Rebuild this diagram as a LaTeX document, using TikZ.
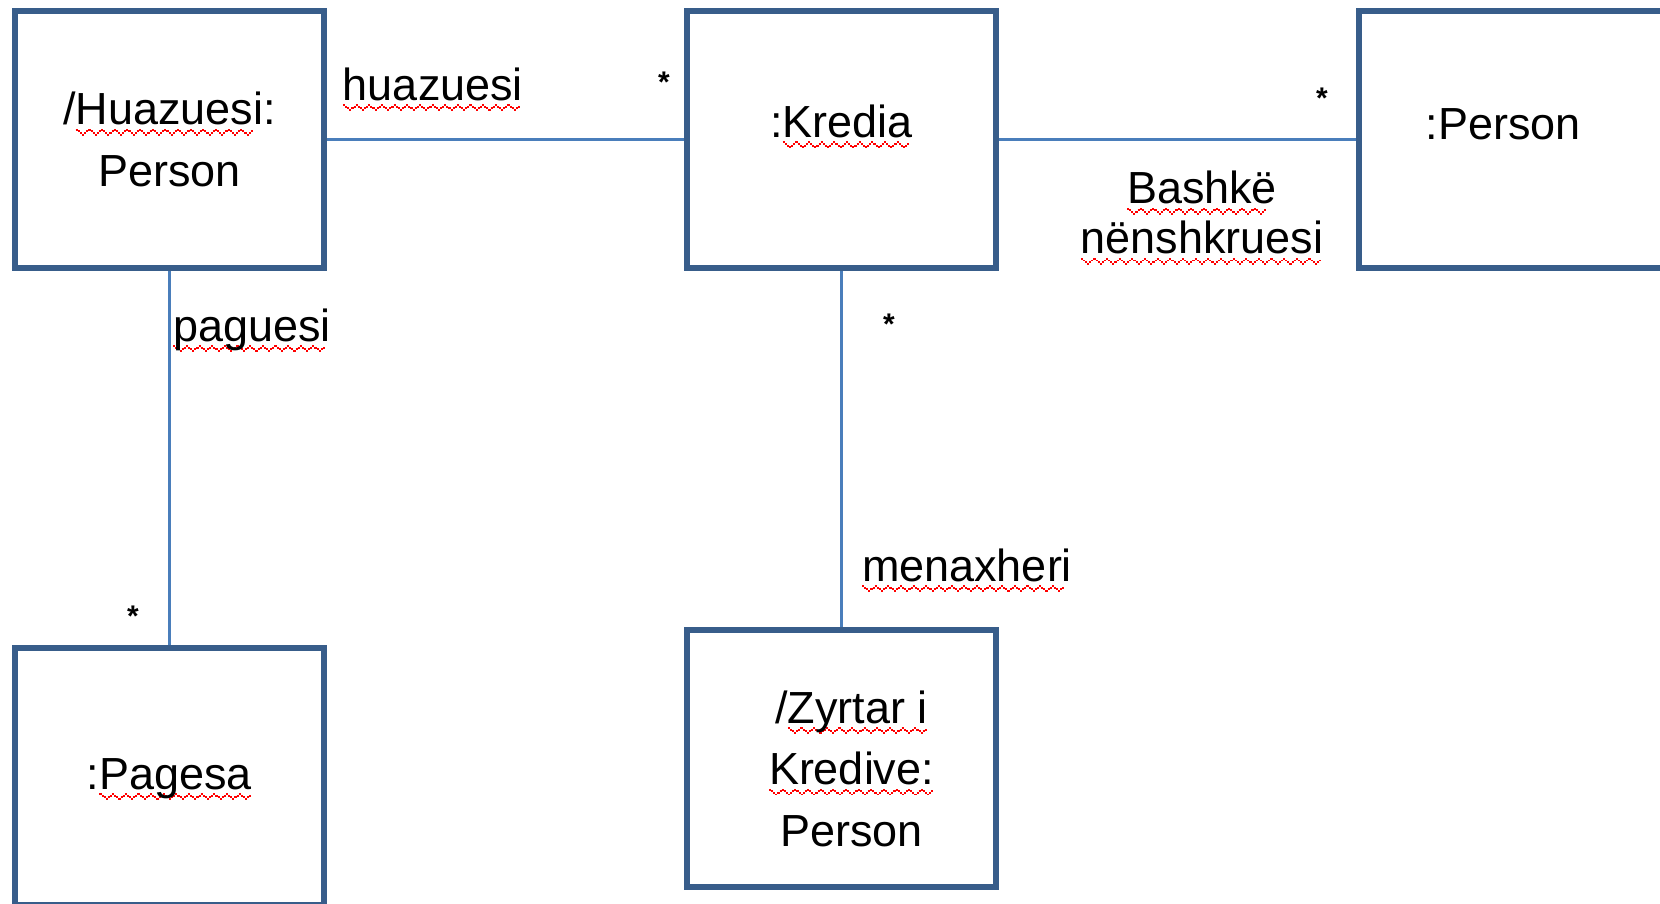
\documentclass[tikz,border=0pt]{standalone}
\usepackage{fontspec}
\setmainfont{Liberation Sans}
\usetikzlibrary{positioning}

\definecolor{boxblue}{HTML}{385D8A}
\definecolor{lineblue}{HTML}{4A7EBB}

% red wavy underline (spell checker marks)
\newsavebox\squigbox
\newcommand\wavebit{\rule[-3.4pt]{1.2pt}{1.1pt}\rule[-4.3pt]{1.2pt}{1.1pt}%
    \rule[-5.3pt]{1.2pt}{1.1pt}\rule[-6.2pt]{1.2pt}{1.1pt}%
    \rule[-5.3pt]{1.2pt}{1.1pt}\rule[-4.3pt]{1.2pt}{1.1pt}}
\newcommand\squig[1]{\sbox\squigbox{#1}%
    \rlap{\textcolor{red}{\hbox to\wd\squigbox{\leaders\hbox{\wavebit}\hfill}}}\usebox\squigbox}

\begin{document}
\begin{tikzpicture}[x=0.02cm,y=-0.02cm]
    \tikzset{
        objbox/.style={draw=boxblue, line width=0.12cm, minimum width=6.18cm,
            minimum height=5.14cm},
        objname/.style={align=center, inner sep=0pt, font=\fontsize{25.6}{35}\selectfont},
        assoc/.style={draw=lineblue, line width=0.05cm},
        rolename/.style={font=\fontsize{25.6}{28.5}\selectfont, align=center, inner sep=0pt},
        mult/.style={font=\fontsize{17}{17}\selectfont\bfseries, inner sep=0pt}
    }
    \useasboundingbox (0,0) rectangle (1660,903);
    \clip (0,0) rectangle (1660,903);

    % Objects
    \node[objbox] (borrower) at (169.5,139.5) {};
    \node[objbox] (loan) at (841.5,139.5) {};
    \node[objbox] (cosigner) at (1513,139.5) {};
    \node[objbox] (payment) at (169.5,776.5) {};
    \node[objbox] (officer) at (841.5,758.5) {};

    \node[objname] (borrowername) at (borrower.center) {/\squig{Huazuesi}:\\Person};
    \node[objname] (loanname) at ([yshift=0.26cm]loan.center) {:\squig{Kredia}};
    \node[objname] (cosignername) at ([xshift=-0.2cm,yshift=0.3cm]cosigner.center) {:Person};
    \node[objname] (paymentname) at ([yshift=-0.05cm]payment.center) {:\squig{Pagesa}};
    \node[objname] (officername) at ([xshift=0.2cm,yshift=-0.2cm]officer.center)
        {/\squig{Zyrtar i}\\\squig{Kredive:}\\Person};

    % Links
    \draw[assoc] (borrower.east) -- (loan.west);
    \draw[assoc] (loan.east) -- (cosigner.west);
    \draw[assoc] (borrower.south) -- (payment.north);
    \draw[assoc] (loan.south) -- (officer.north);

    % Role names
    \node[rolename, anchor=base] (borrowerrole) at (433,100) {\squig{huazuesi}};
    \node[rolename] (cosignerrole) at (1202,218) {\squig{Bashkë}\\\squig{nënshkruesi}};
    \node[rolename, anchor=base] (payerrole) at (252,341) {\squig{paguesi}};
    \node[rolename, anchor=base] (managerrole) at (967,581) {\squig{menaxheri}};

    % Multiplicities
    \node[mult] (m1) at (664,82) {*};
    \node[mult] (m2) at (1322,98) {*};
    \node[mult] (m3) at (133,616) {*};
    \node[mult] (m4) at (889,324) {*};
\end{tikzpicture}
\end{document}
